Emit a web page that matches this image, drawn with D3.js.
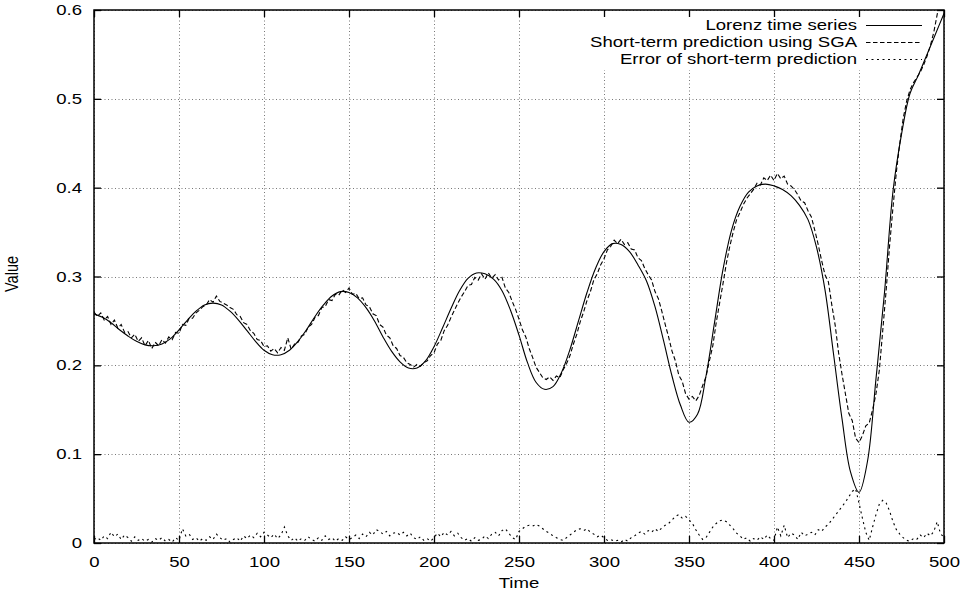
<!DOCTYPE html>
<html>
<head>
<meta charset="utf-8">
<script src="https://cdn.jsdelivr.net/npm/d3@7"></script>
<style>
body{margin:0;background:#fff}
text{font-family:"Liberation Sans",Arial,Helvetica,sans-serif;font-size:14.5px;fill:#000}
</style>
</head>
<body>
<script>
// ticks + legend
const xTicks = [0,50,100,150,200,250,300,350,400,450,500]
const yTicks = [0,0.1,0.2,0.3,0.4,0.5,0.6]
const seriesLabels = ["Lorenz time series","Short-term prediction using SGA","Error of short-term prediction"]

// Lorenz series, one value every 5 time units (t = 0..500)
const lorenz = [
0.258,0.254,0.248,0.240,0.233,0.227,0.223,0.222,0.224,0.230,
0.240,0.251,0.261,0.268,0.270,0.268,0.261,0.251,0.239,0.227,
0.217,0.212,0.212,0.217,0.227,0.240,0.255,0.268,0.278,0.283,
0.282,0.276,0.265,0.250,0.232,0.216,0.204,0.197,0.197,0.205,
0.221,0.242,0.264,0.284,0.298,0.304,0.303,0.297,0.284,0.262,
0.234,0.203,0.181,0.173,0.176,0.192,0.218,0.250,0.282,0.309,
0.328,0.337,0.336,0.328,0.313,0.295,0.266,0.228,0.188,0.155,
0.136,0.145,0.188,0.248,0.308,0.352,0.379,0.395,0.402,0.404,
0.402,0.398,0.391,0.380,0.364,0.333,0.285,0.213,0.140,0.080,
0.057,0.092,0.185,0.282,0.396,0.460,0.506,0.527,0.550,0.573,
0.596]

// prediction, one value every 2 time units
const prediction = [
0.260,0.255,0.259,0.251,0.255,0.246,0.251,0.242,0.246,0.237,
0.238,0.231,0.235,0.227,0.231,0.222,0.228,0.219,0.226,0.222,
0.229,0.225,0.232,0.229,0.237,0.236,0.246,0.245,0.253,0.253,
0.259,0.262,0.266,0.268,0.274,0.271,0.278,0.272,0.270,0.268,
0.265,0.263,0.257,0.255,0.248,0.246,0.239,0.236,0.229,0.228,
0.221,0.222,0.216,0.219,0.214,0.220,0.217,0.231,0.218,0.224,
0.226,0.233,0.235,0.243,0.246,0.254,0.256,0.265,0.266,0.274,
0.273,0.280,0.279,0.285,0.282,0.287,0.280,0.281,0.275,0.276,
0.268,0.266,0.258,0.256,0.246,0.243,0.234,0.231,0.222,0.219,
0.211,0.209,0.203,0.201,0.198,0.201,0.199,0.203,0.205,0.211,
0.214,0.224,0.228,0.239,0.245,0.254,0.262,0.270,0.277,0.283,
0.290,0.291,0.299,0.296,0.303,0.297,0.304,0.298,0.302,0.296,
0.299,0.287,0.282,0.272,0.263,0.252,0.240,0.232,0.219,0.209,
0.198,0.192,0.186,0.184,0.187,0.183,0.188,0.186,0.195,0.202,
0.211,0.224,0.235,0.249,0.260,0.273,0.283,0.296,0.303,0.313,
0.320,0.330,0.334,0.341,0.337,0.342,0.336,0.338,0.331,0.330,
0.321,0.318,0.309,0.302,0.296,0.283,0.275,0.261,0.246,0.232,
0.216,0.205,0.189,0.182,0.168,0.162,0.165,0.160,0.166,0.177,
0.187,0.205,0.222,0.248,0.270,0.292,0.315,0.334,0.350,0.364,
0.372,0.381,0.388,0.393,0.398,0.405,0.403,0.411,0.408,0.414,
0.408,0.416,0.410,0.413,0.404,0.402,0.398,0.392,0.385,0.383,
0.374,0.367,0.352,0.336,0.318,0.302,0.294,0.268,0.245,0.214,
0.190,0.168,0.146,0.138,0.118,0.113,0.121,0.132,0.135,0.150,
0.168,0.195,0.240,0.285,0.335,0.378,0.418,0.450,0.478,0.497,
0.510,0.518,0.524,0.530,0.538,0.548,0.560,0.575,0.595,0.612,
0.625]

// error of the prediction, one value every 2 time units
const predError = [
0.004,0.006,0.003,0.008,0.005,0.012,0.007,0.010,0.004,0.009,
0.006,0.002,0.007,0.003,0.005,0.002,0.004,0.001,0.005,0.003,
0.006,0.002,0.004,0.001,0.006,0.003,0.016,0.008,0.010,0.004,
0.006,0.002,0.005,0.003,0.007,0.004,0.010,0.006,0.003,0.005,
0.001,0.004,0.006,0.002,0.008,0.005,0.009,0.006,0.011,0.007,
0.012,0.009,0.006,0.010,0.005,0.009,0.018,0.008,0.003,0.006,
0.002,0.005,0.003,0.007,0.004,0.002,0.006,0.003,0.008,0.004,
0.006,0.002,0.005,0.003,0.007,0.004,0.006,0.009,0.005,0.010,
0.007,0.012,0.009,0.015,0.013,0.010,0.013,0.008,0.011,0.012,
0.009,0.012,0.008,0.011,0.006,0.004,0.007,0.003,0.005,0.002,
0.006,0.011,0.007,0.012,0.009,0.013,0.008,0.011,0.006,0.003,
0.005,0.002,0.006,0.003,0.004,0.008,0.005,0.010,0.012,0.008,
0.014,0.016,0.011,0.006,0.004,0.013,0.016,0.019,0.020,0.019,
0.021,0.019,0.016,0.013,0.011,0.008,0.006,0.004,0.003,0.006,
0.009,0.012,0.015,0.016,0.014,0.016,0.012,0.010,0.007,0.009,
0.006,0.003,0.004,0.002,0.003,0.001,0.004,0.002,0.006,0.008,
0.011,0.013,0.010,0.014,0.012,0.016,0.013,0.017,0.020,0.022,
0.026,0.030,0.032,0.028,0.030,0.026,0.022,0.015,0.009,0.004,
0.006,0.012,0.018,0.022,0.025,0.026,0.024,0.020,0.016,0.011,
0.008,0.004,0.006,0.002,0.005,0.003,0.007,0.004,0.009,0.005,
0.003,0.018,0.008,0.020,0.006,0.011,0.009,0.004,0.012,0.008,
0.010,0.012,0.009,0.015,0.013,0.018,0.021,0.026,0.031,0.036,
0.041,0.046,0.052,0.058,0.061,0.045,0.028,0.012,0.003,0.018,
0.032,0.044,0.048,0.045,0.036,0.024,0.015,0.010,0.006,0.003,
0.002,0.005,0.004,0.009,0.006,0.011,0.008,0.013,0.024,0.010,
0.007]

const W = 970, H = 596
const mLeft = 94, mRight = 944, mTop = 10, mBottom = 543
const stretch = 1.28   // text in the picture is drawn wide
const tick = 7

let svg = d3.select("body").append("svg").attr("width", W).attr("height", H)

let x = d3.scaleLinear().domain([0, 500]).range([mLeft, mRight])
let y = d3.scaleLinear().domain([0, 0.6]).range([mBottom, mTop])

svg.append("clipPath").attr("id", "plot")
  .append("rect").attr("x", mLeft).attr("y", mTop).attr("width", mRight - mLeft).attr("height", mBottom - mTop)

// grid
let grid = svg.append("g").attr("stroke", "#777").attr("stroke-width", 1).attr("stroke-dasharray", "1,2.5")
grid.selectAll(".gx").data(xTicks).join("line")
  .attr("x1", d => Math.round(x(d)) + 0.5).attr("x2", d => Math.round(x(d)) + 0.5)
  .attr("y1", mTop).attr("y2", mBottom)
grid.selectAll(".gy").data(yTicks).join("line")
  .attr("y1", d => Math.round(y(d)) + 0.5).attr("y2", d => Math.round(y(d)) + 0.5)
  .attr("x1", mLeft).attr("x2", mRight)

// legend background hides the grid under the key
let legend = svg.append("g")
let legendBox = legend.append("rect").attr("fill", "#fff")

// series
let toPoints = (arr, step) => arr.map((v, i) => ({t: i * step, v: v}))
let series = [
  {pts: toPoints(lorenz, 5), dash: null, curve: d3.curveCatmullRom.alpha(0.5)},
  {pts: toPoints(prediction, 2), dash: "4.5,2.5", curve: d3.curveLinear},
  {pts: toPoints(predError, 2), dash: "2,3.5", curve: d3.curveLinear}
]

let plotG = svg.append("g").attr("clip-path", "url(#plot)")
series.forEach(s => {
  let line = d3.line().x(d => x(d.t)).y(d => y(d.v)).curve(s.curve)
  plotG.append("path")
    .attr("d", line(s.pts))
    .attr("fill", "none")
    .attr("stroke", "#000")
    .attr("stroke-width", 1.1)
    .attr("stroke-dasharray", s.dash)
})

// legend entries
let rows = [25, 42, 59]
let textEnd = 857, sampleX1 = 866, sampleX2 = 922
let minStart = textEnd
seriesLabels.forEach((label, i) => {
  let t = legend.append("text")
    .attr("transform", `translate(${textEnd},${rows[i] + 5}) scale(${stretch},1)`)
    .attr("text-anchor", "end")
    .text(label)
  minStart = Math.min(minStart, textEnd - t.node().getComputedTextLength() * stretch)
  legend.append("line")
    .attr("x1", sampleX1).attr("x2", sampleX2)
    .attr("y1", rows[i] + 0.5).attr("y2", rows[i] + 0.5)
    .attr("stroke", "#000").attr("stroke-width", 1.1)
    .attr("stroke-dasharray", series[i].dash)
})
legendBox.attr("x", minStart - 4).attr("y", mTop + 2)
  .attr("width", sampleX2 + 4 - (minStart - 4)).attr("height", rows[2] + 9 - mTop)

// axes, gnuplot style: ticks pointing in on every side
let axB = svg.append("g").attr("transform", `translate(0,${mBottom})`)
  .call(d3.axisBottom(x).tickValues(xTicks).tickSizeInner(-tick).tickSizeOuter(0).tickFormat(d3.format("d")))
axB.selectAll("text").attr("y", 14).attr("dy", "0.71em").attr("transform", `scale(${stretch},1)`)

let axL = svg.append("g").attr("transform", `translate(${mLeft},0)`)
  .call(d3.axisLeft(y).tickValues(yTicks).tickSizeInner(-tick).tickSizeOuter(0).tickFormat(d => d === 0 ? "0" : d3.format(".1f")(d)))
axL.selectAll("text").attr("x", -12 / stretch).attr("transform", `scale(${stretch},1)`)

svg.append("g").attr("transform", `translate(0,${mTop})`)
  .call(d3.axisTop(x).tickValues(xTicks).tickSizeInner(-tick).tickSizeOuter(0).tickFormat(""))
svg.append("g").attr("transform", `translate(${mRight},0)`)
  .call(d3.axisRight(y).tickValues(yTicks).tickSizeInner(-tick).tickSizeOuter(0).tickFormat(""))

svg.selectAll(".domain").remove()
svg.selectAll(".tick line").attr("stroke", "#000").attr("stroke-width", 1.3)
svg.selectAll(".tick text").attr("fill", "#000").attr("font-size", null).attr("font-family", null)

// border
svg.append("rect")
  .attr("x", mLeft).attr("y", mTop).attr("width", mRight - mLeft).attr("height", mBottom - mTop)
  .attr("fill", "none").attr("stroke", "#000").attr("stroke-width", 1.5)

// axis titles
svg.append("text")
  .attr("transform", `translate(${(mLeft + mRight) / 2},588) scale(${stretch},1)`)
  .attr("text-anchor", "middle")
  .text("Time")
svg.append("text")
  .attr("transform", `translate(18,274) scale(${stretch},1) rotate(-90)`)
  .attr("text-anchor", "middle")
  .text("Value")
</script>
</body>
</html>
